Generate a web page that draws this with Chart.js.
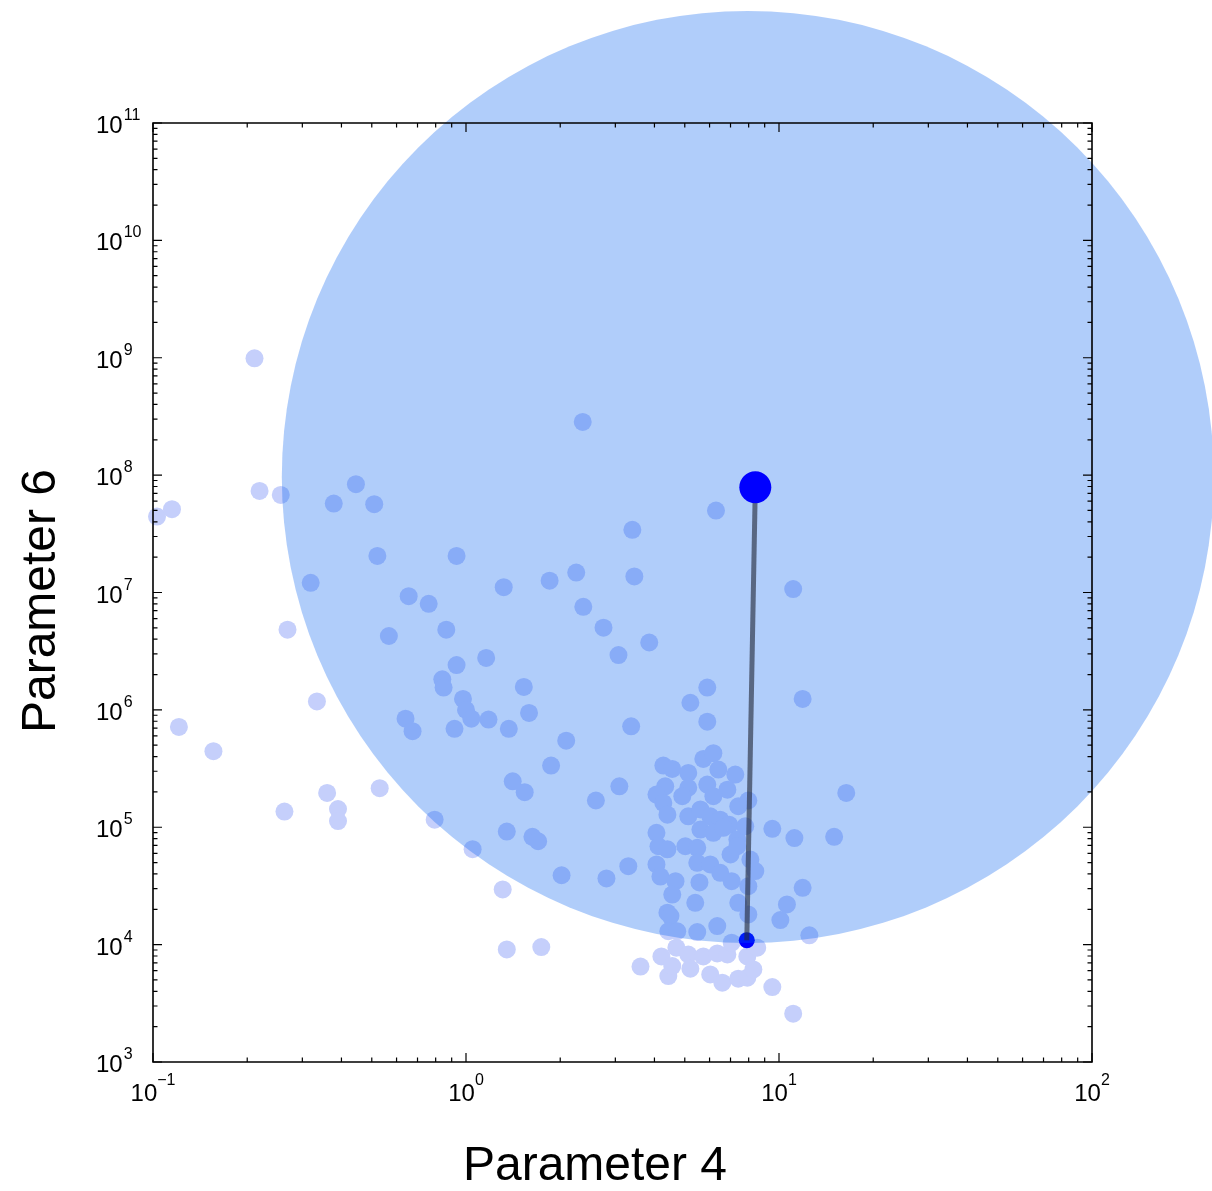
<!DOCTYPE html>
<html>
<head>
<meta charset="utf-8">
<script src="https://cdn.jsdelivr.net/npm/chart.js@4.4.1/dist/chart.umd.min.js"></script>
<style>
  html, body { margin: 0; padding: 0; background: #ffffff; }
  #wrap { width: 1212px; height: 1191px; position: relative; }
  canvas { display: block; }
</style>
</head>
<body>
<div id="wrap"><canvas id="chart" width="1212" height="1191"></canvas></div>
<script>
// Axis decades (tick labels are 10^exponent)
const xExponents = [-1, 0, 1, 2];
const yExponents = [3, 4, 5, 6, 7, 8, 9, 10, 11];

// Sampled parameter sets: Parameter 4 (x) and Parameter 6 (y)
const sampleP4 = [
  0.211, 0.103, 0.115, 0.219, 0.256, 0.269, 0.121, 0.156, 0.334, 0.263,
  0.360, 0.390, 0.390, 0.530, 0.794, 1.05, 1.31, 1.35, 1.74, 3.61,
  4.21, 4.70, 4.43, 4.56, 5.13, 5.21, 5.73, 6.03, 6.35, 6.59,
  6.84, 7.41, 7.92, 7.92, 8.28, 8.52, 9.52, 11.1,
  2.36, 0.445, 0.378, 0.509, 6.29, 3.40, 0.521, 0.933, 2.25, 1.85,
  3.45, 0.319, 1.32, 11.1, 0.656, 0.760, 2.37, 2.75, 0.865, 0.567,
  3.85, 3.07, 1.16, 0.933, 0.840, 0.848, 1.53, 5.90, 0.978, 11.9,
  5.21, 1.00, 1.04, 1.59, 0.641, 1.18, 0.675, 0.919, 1.37, 3.37,
  5.90, 2.09, 1.87, 1.41, 1.54, 2.60, 3.09,
  4.27, 4.56, 5.13, 5.73, 6.17, 6.40, 7.25, 5.90, 4.33, 4.06,
  5.13, 6.84, 6.17, 4.91, 4.27, 4.40, 5.13, 5.61, 6.03, 6.49,
  6.94, 7.41, 7.98, 9.52, 11.2, 15.0, 16.4, 4.06, 4.12, 4.40,
  5.02, 5.48, 5.61, 6.17, 6.64, 7.36, 7.80, 3.30, 2.81, 4.06,
  4.18, 4.67, 4.56, 5.48, 6.03, 5.57, 6.49, 7.06, 7.00, 7.36,
  8.10, 8.40, 7.98, 11.9, 5.40, 7.41, 10.6, 10.1, 4.40, 4.50,
  7.98, 6.35, 5.48, 4.43, 4.73, 12.5, 7.06, 2.02, 1.35, 1.63, 1.70
];
const sampleP6 = [
  9.9e8, 4.44e7, 5.13e7, 7.34e7, 6.78e7, 4.82e6, 7.15e5, 4.45e5, 1.18e6, 1.36e5,
  1.96e5, 1.43e5, 1.13e5, 2.15e5, 1.16e5, 6.5e4, 2.95e4, 9.1e3, 9.53e3, 6.5e3,
  7.94e3, 9.42e3, 5.40e3, 6.56e3, 8.24e3, 6.24e3, 7.94e3, 5.57e3, 8.41e3, 4.74e3,
  8.24e3, 5.13e3, 5.23e3, 7.94e3, 6.15e3, 9.42e3, 4.35e3, 2.58e3,
  2.84e8, 8.37e7, 5.72e7, 5.65e7, 4.99e7, 3.42e7, 2.05e7, 2.05e7, 1.48e7, 1.26e7,
  1.37e7, 1.21e7, 1.11e7, 1.07e7, 9.31e6, 8.01e6, 7.55e6, 5.01e6, 4.82e6, 4.26e6,
  3.75e6, 2.93e6, 2.77e6, 2.41e6, 1.82e6, 1.55e6, 1.57e6, 1.55e6, 1.24e6, 1.24e6,
  1.15e6, 1.00e6, 8.41e5, 9.41e5, 8.41e5, 8.26e5, 6.59e5, 6.89e5, 6.89e5, 7.24e5,
  7.94e5, 5.47e5, 3.35e5, 2.46e5, 1.99e5, 1.69e5, 2.23e5,
  3.35e5, 3.14e5, 2.90e5, 3.82e5, 4.28e5, 3.10e5, 2.81e5, 2.31e5, 2.23e5, 1.90e5,
  2.17e5, 2.09e5, 1.84e5, 1.84e5, 1.61e5, 1.28e5, 1.24e5, 1.42e5, 1.24e5, 1.16e5,
  1.05e5, 1.51e5, 1.69e5, 9.69e4, 8.09e4, 8.28e4, 1.96e5, 8.96e4, 6.89e4, 6.49e4,
  6.89e4, 6.68e4, 9.55e4, 8.96e4, 9.88e4, 7.86e4, 1.02e5, 4.66e4, 3.66e4, 4.82e4,
  3.80e4, 3.47e4, 2.67e4, 4.98e4, 4.82e4, 3.39e4, 4.09e4, 3.47e4, 5.86e4, 6.89e4,
  5.31e4, 4.23e4, 3.15e4, 3.05e4, 2.27e4, 2.27e4, 2.20e4, 1.62e4, 1.87e4, 1.75e4,
  1.81e4, 1.44e4, 1.28e4, 1.30e4, 1.30e4, 1.20e4, 1.04e4, 3.90e4, 9.19e4, 8.28e4, 7.60e4
];

// Selected point, its anchor and the highlighted neighbourhood
const focusP4 = [8.40];
const focusP6 = [7.89e7];
const anchorP4 = [7.89];
const anchorP6 = [1.09e4];
const regionP4 = [7.95];
const regionP6 = [9.66e7];
const regionRadiusPx = 466;

const toPoints = (xs, ys) => xs.map((x, i) => ({ x: x, y: ys[i] }));

const FONT = '"Liberation Sans", Arial, Helvetica, sans-serif';

// Box frame with inward log ticks, superscript labels and axis titles
const axisFrame = {
  id: 'axisFrame',
  afterDatasetsDraw(chart) {
    const ctx = chart.ctx;
    const xs = chart.scales.x, ys = chart.scales.y;
    const a = chart.chartArea;
    ctx.save();
    ctx.strokeStyle = '#000000';
    ctx.lineWidth = 1.6;
    ctx.beginPath();
    ctx.rect(a.left, a.top, a.right - a.left, a.bottom - a.top);
    ctx.stroke();

    const majorLen = 9, minorLen = 4.5;
    ctx.lineWidth = 1.2;
    ctx.beginPath();
    for (let e = xExponents[0]; e < xExponents[xExponents.length - 1] + 1; e++) {
      for (let m = 1; m <= 9; m++) {
        const v = m * Math.pow(10, e);
        if (v > Math.pow(10, xExponents[xExponents.length - 1]) * 1.0001) break;
        const px = xs.getPixelForValue(v);
        const len = m === 1 ? majorLen : minorLen;
        ctx.moveTo(px, a.bottom); ctx.lineTo(px, a.bottom - len);
        ctx.moveTo(px, a.top); ctx.lineTo(px, a.top + len);
      }
    }
    for (let e = yExponents[0]; e < yExponents[yExponents.length - 1] + 1; e++) {
      for (let m = 1; m <= 9; m++) {
        const v = m * Math.pow(10, e);
        if (v > Math.pow(10, yExponents[yExponents.length - 1]) * 1.0001) break;
        const py = ys.getPixelForValue(v);
        const len = m === 1 ? majorLen : minorLen;
        ctx.moveTo(a.left, py); ctx.lineTo(a.left + len, py);
        ctx.moveTo(a.right, py); ctx.lineTo(a.right - len, py);
      }
    }
    ctx.stroke();

    // tick labels: "10" with a raised exponent
    ctx.fillStyle = '#000000';
    ctx.textBaseline = 'alphabetic';
    const baseFont = '24px ' + FONT, expFont = '16px ' + FONT;
    const expStr = (e) => (e < 0 ? '\u2212' + (-e) : String(e));
    xExponents.forEach(e => {
      const px = xs.getPixelForValue(Math.pow(10, e));
      ctx.font = baseFont; const wb = ctx.measureText('10').width;
      ctx.font = expFont; const we = ctx.measureText(expStr(e)).width;
      const x0 = px - (wb + we) / 2;
      ctx.textAlign = 'left';
      ctx.font = baseFont; ctx.fillText('10', x0, a.bottom + 39);
      ctx.font = expFont; ctx.fillText(expStr(e), x0 + wb, a.bottom + 23);
    });
    yExponents.forEach(e => {
      const py = ys.getPixelForValue(Math.pow(10, e));
      const left = a.left - 57;
      ctx.textAlign = 'left';
      ctx.font = baseFont; const wb = ctx.measureText('10').width;
      ctx.fillText('10', left, py + 10);
      ctx.font = expFont; ctx.fillText(expStr(e), left + wb + 1, py - 3);
    });

    // axis titles
    ctx.font = '48px ' + FONT;
    ctx.textAlign = 'center';
    ctx.fillText('Parameter 4', 595, a.bottom + 118);
    ctx.save();
    ctx.translate(55, 601);
    ctx.rotate(-Math.PI / 2);
    ctx.fillText('Parameter 6', 0, 0);
    ctx.restore();
    ctx.restore();
  }
};

new Chart(document.getElementById('chart'), {
  data: {
    datasets: [
      {
        type: 'scatter',
        label: 'selected',
        data: toPoints(focusP4, focusP6),
        pointRadius: 16,
        pointBackgroundColor: '#0000ff',
        pointBorderWidth: 0,
        clip: false,
        order: 1
      },
      {
        type: 'line',
        label: 'link',
        data: toPoints(focusP4, focusP6).concat(toPoints(anchorP4, anchorP6)),
        borderColor: 'rgba(34, 40, 56, 0.62)',
        borderWidth: 5,
        pointRadius: 0,
        fill: false,
        clip: false,
        order: 2
      },
      {
        type: 'bubble',
        label: 'neighbourhood',
        data: [{ x: regionP4[0], y: regionP6[0], r: regionRadiusPx }],
        backgroundColor: 'rgba(0, 93, 239, 0.31)',
        borderWidth: 0,
        clip: false,
        order: 3
      },
      {
        type: 'scatter',
        label: 'anchor',
        data: toPoints(anchorP4, anchorP6),
        pointRadius: 8,
        pointBackgroundColor: '#0000ff',
        pointBorderWidth: 0,
        clip: false,
        order: 4
      },
      {
        type: 'scatter',
        label: 'samples',
        data: toPoints(sampleP4, sampleP6),
        pointRadius: 9,
        pointBackgroundColor: '#c5cffb',
        pointBorderWidth: 0,
        clip: false,
        order: 5
      }
    ]
  },
  options: {
    responsive: false,
    animation: false,
    devicePixelRatio: 1,
    events: [],
    layout: { autoPadding: false, padding: { left: 153, right: 120, top: 123, bottom: 129 } },
    plugins: { legend: { display: false }, tooltip: { enabled: false } },
    scales: {
      x: { type: 'logarithmic', min: 0.1, max: 100, display: false },
      y: { type: 'logarithmic', min: 1e3, max: 1e11, display: false }
    }
  },
  plugins: [axisFrame]
});
</script>
</body>
</html>
